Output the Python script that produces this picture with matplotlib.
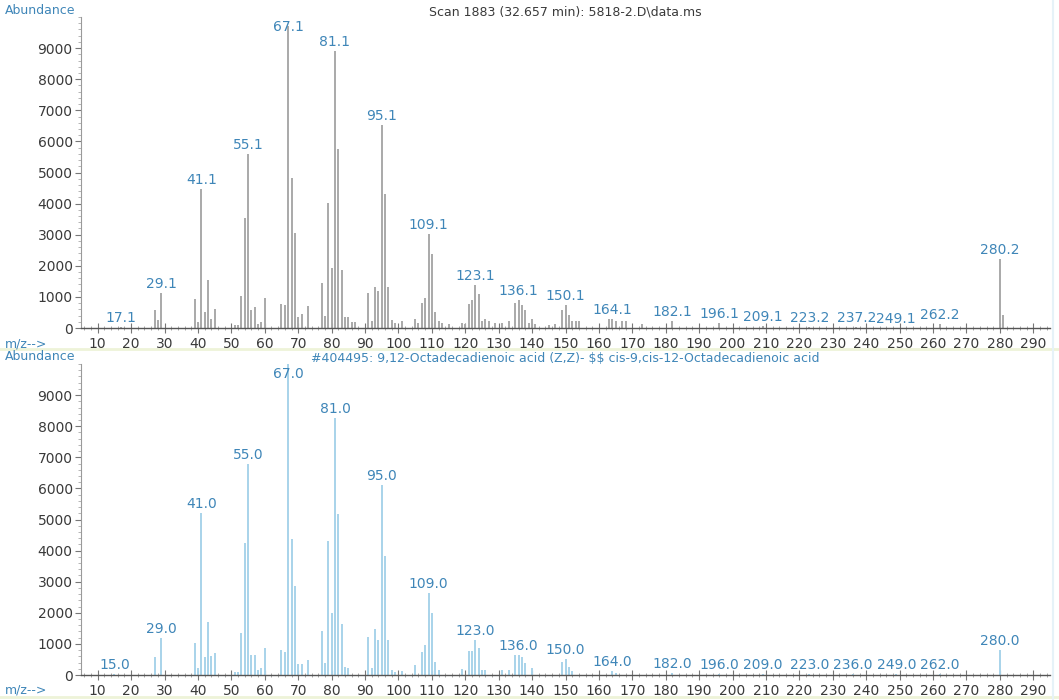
import numpy as np
import matplotlib.pyplot as plt
from matplotlib.ticker import MultipleLocator

# sample scan (top panel)
top_mz = [17, 27, 28, 29, 39, 40, 41, 42, 43, 44, 45, 51, 52, 53, 54, 55, 56, 57, 58, 59, 60,
          65, 66, 67, 68, 69, 70, 71, 73, 77, 78, 79, 80, 81, 82, 83, 84, 85, 86, 87,
          91, 92, 93, 94, 95, 96, 97, 98, 99, 101, 105, 106, 107, 108, 109, 110, 111, 112, 113, 115,
          119, 120, 121, 122, 123, 124, 125, 126, 127, 129, 131, 133, 135, 136, 137, 138, 139, 140, 141,
          145, 147, 149, 150, 151, 152, 153, 154, 163, 164, 165, 167, 168, 173, 182, 196, 209, 223,
          237, 249, 262, 280, 281]
top_ab = [20, 580, 260, 1120, 940, 200, 4480, 530, 1550, 300, 610, 100, 110, 1035, 3550, 5580, 570, 690, 120, 200, 960,
          770, 750, 9700, 4830, 3060, 370, 450, 715, 1440, 390, 4030, 1920, 8910, 5760, 1850, 370, 370, 200, 200,
          1120, 210, 1330, 1195, 6540, 4320, 1310, 270, 160, 210, 290, 160, 800, 960, 3020, 2370, 530, 210, 160, 130,
          160, 130, 770, 910, 1390, 1090, 230, 290, 210, 160, 160, 230, 800, 890, 750, 590, 160, 300, 130,
          100, 130, 590, 730, 430, 230, 210, 210, 300, 300, 210, 210, 210, 130, 210, 150, 60, 40,
          40, 10, 120, 2230, 420]
top_labels = ["17.1", "29.1", "41.1", "55.1", "67.1", "81.1", "95.1", "109.1", "123.1", "136.1",
              "150.1", "164.1", "182.1", "196.1", "209.1", "223.2", "237.2", "249.1", "262.2", "280.2"]

# library match (bottom panel)
bot_mz = [15, 27, 29, 39, 40, 41, 42, 43, 44, 45, 51, 52, 53, 54, 55, 56, 57, 58, 59, 60,
          65, 66, 67, 68, 69, 70, 71, 73, 77, 78, 79, 80, 81, 82, 83, 84, 85,
          91, 92, 93, 94, 95, 96, 97, 98, 99, 101, 105, 107, 108, 109, 110, 111, 112,
          119, 121, 122, 123, 124, 125, 126, 131, 133, 135, 136, 137, 138, 140,
          149, 150, 151, 152, 164, 165, 182, 196, 209, 223, 236, 249, 262, 280]
bot_ab = [20, 590, 1200, 1040, 210, 5220, 590, 1715, 600, 700, 100, 100, 1340, 4250, 6780, 640, 640, 160, 210, 860,
          800, 750, 9990, 4360, 2860, 340, 340, 480, 1430, 375, 4310, 1980, 8250, 5170, 1630, 270, 210,
          1230, 210, 1480, 1125, 6110, 3840, 1125, 160, 110, 130, 320, 750, 960, 2630, 1980, 430, 160,
          190, 770, 770, 1125, 860, 160, 160, 150, 150, 640, 640, 590, 375, 235,
          430, 500, 270, 130, 130, 80, 60, 40, 30, 30, 30, 20, 30, 800]
bot_labels = ["15.0", "29.0", "41.0", "55.0", "67.0", "81.0", "95.0", "109.0", "123.0", "136.0",
              "150.0", "164.0", "182.0", "196.0", "209.0", "223.0", "236.0", "249.0", "262.0", "280.0"]

top_title = r"Scan 1883 (32.657 min): 5818-2.D\data.ms"
bot_title = r"#404495: 9,12-Octadecadienoic acid (Z,Z)- \$\$ cis-9,cis-12-Octadecadienoic acid"

label_blue = '#3f86b8'
tick_grey = '#3a3a3a'

plt.rcParams['font.family'] = 'DejaVu Sans'

fig = plt.figure(figsize=(10.59, 7.0), dpi=100)
ax_top = fig.add_axes([0.0765, 0.5314, 0.915, 0.4443])
ax_bot = fig.add_axes([0.0765, 0.0357, 0.915, 0.4443])

# faint frame lines like the instrument printout
frame = '#eef3d8'
fig.add_artist(plt.Line2D([0, 1], [0.502, 0.502], color=frame, linewidth=2, transform=fig.transFigure))
fig.add_artist(plt.Line2D([0, 1], [0.004, 0.004], color=frame, linewidth=2, transform=fig.transFigure))
fig.add_artist(plt.Line2D([0.994, 0.994], [0, 1], color='#e6f2f8', linewidth=1.5, transform=fig.transFigure))


def draw_panel(ax, mz, ab, labels, bar_color, title, title_color):
    ax.vlines(mz, 0, ab, color=bar_color, linewidth=1.4)
    heights = dict(zip(mz, ab))
    for lab in labels:
        x = int(round(float(lab) - 0.1))
        y = min(heights.get(x, 0), 9400)
        ax.annotate(lab, (x, y), xytext=(0, 1.5), textcoords='offset points',
                    ha='center', va='bottom', fontsize=10, color=label_blue, annotation_clip=False)
    ax.set_xlim(5, 295)
    ax.set_ylim(0, 10000)
    ax.set_xticks(np.arange(10, 300, 10))
    ax.xaxis.set_minor_locator(MultipleLocator(2))
    ax.set_yticks(np.arange(0, 10000, 1000))
    ax.yaxis.set_minor_locator(MultipleLocator(200))
    ax.tick_params(axis='both', which='major', labelsize=10, labelcolor=tick_grey, color='#777777')
    ax.tick_params(axis='x', which='major', direction='inout', length=7, width=0.8, pad=3)
    ax.tick_params(axis='x', which='minor', direction='inout', length=3, width=0.6, color='#999999')
    ax.tick_params(axis='y', which='major', direction='out', length=4, width=0.8, pad=2)
    ax.tick_params(axis='y', which='minor', direction='out', length=2, width=0.6, color='#aaaaaa')
    for s in ['top', 'right']:
        ax.spines[s].set_visible(False)
    ax.spines['left'].set_color('#9a9a9a')
    ax.spines['left'].set_linewidth(0.8)
    ax.spines['bottom'].set_color('#555555')
    ax.spines['bottom'].set_linewidth(1.0)
    ax.set_title(title, fontsize=9, color=title_color, pad=0, y=1.005)


draw_panel(ax_top, top_mz, top_ab, top_labels, '#a9a9a9', top_title, '#3a3a3a')
draw_panel(ax_bot, bot_mz, bot_ab, bot_labels, '#a8d3ea', bot_title, label_blue)

for yb, ya in [(0.9857, 0.509), (0.49, 0.0143)]:
    fig.text(0.005, yb, 'Abundance', fontsize=9, color=label_blue, ha='left', va='center')
    fig.text(0.005, ya, 'm/z-->', fontsize=9, color=label_blue, ha='left', va='center')

fig.savefig('out.png', dpi=100)
